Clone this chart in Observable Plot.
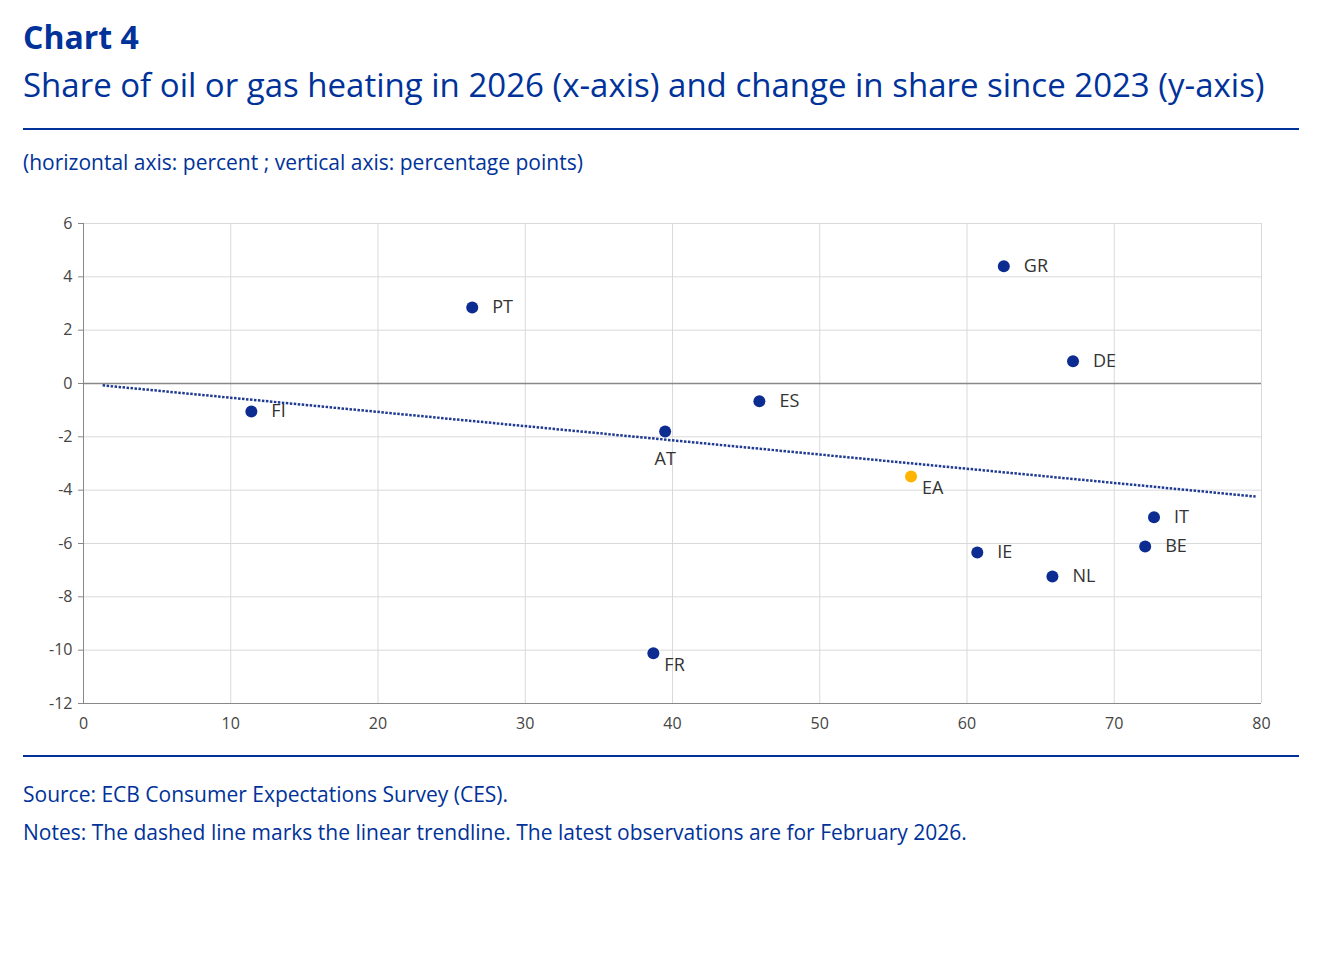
<!DOCTYPE html><html><head><meta charset="utf-8">
<script src="https://cdn.jsdelivr.net/npm/d3@7"></script>
<script src="https://cdn.jsdelivr.net/npm/@observablehq/plot@0.6"></script>
<style>
body{margin:0;background:#fff;font-family:"Open Sans",sans-serif;}
#wrap{padding:16px 33px 0 23px;width:1276px;}
h1{margin:0;color:#003299;font-size:32px;font-weight:700;line-height:42px;}
h2{margin:8px 0 0;color:#003299;font-size:33px;font-weight:400;line-height:38px;padding-bottom:24px;border-bottom:2.5px solid #003299;}
.unit{color:#003299;font-size:21px;margin-top:18px;}
.foot{border-top:2.5px solid #003299;color:#003299;font-size:21px;padding-top:18px;line-height:38px;}
</style></head><body><div id="wrap">
<h1>Chart 4</h1>
<h2>Share of oil or gas heating in 2026 (x-axis) and change in share since 2023 (y-axis)</h2>
<div class="unit">(horizontal axis: percent ; vertical axis: percentage points)</div>
<div id="chart"></div>
<div class="foot">Source: ECB Consumer Expectations Survey (CES).<br>Notes: The dashed line marks the linear trendline. The latest observations are for February 2026.</div>
</div>
<script>
const countries=["GR","PT","DE","FI","ES","AT","EA","IT","BE","IE","NL","FR"];
const share2026=[62.5,26.4,67.2,11.4,45.9,39.5,56.2,72.7,72.1,60.7,65.8,38.7];
const change=[4.4,2.85,0.83,-1.05,-0.67,-1.8,-3.49,-5.02,-6.11,-6.34,-7.24,-10.12];
const labelPos=["r","r","r","r","r","b","br","r","r","r","r","br"];
const trendX=[1.3,79.6];
const trendY=[-0.07,-4.24];
const xTicks=[0,10,20,30,40,50,60,70,80];
const yTicks=[6,4,2,0,-2,-4,-6,-8,-10,-12];
const data=countries.map((c,i)=>({c,x:share2026[i],y:change[i],p:labelPos[i]}));
const trend=trendX.map((x,i)=>({x,y:trendY[i]}));
const lab=p=>data.filter(d=>d.p===p);
const plot=Plot.plot({
 width:1276,height:555,marginLeft:60,marginRight:38,marginTop:23,marginBottom:52,
 style:{fontFamily:"Open Sans, sans-serif",fontSize:"16px",color:"#444"},
 x:{domain:[0,80],label:null},
 y:{domain:[-12,6],label:null},
 marks:[
  Plot.gridX(xTicks,{stroke:"#d9d9d9",strokeOpacity:1}),
  Plot.gridY(yTicks,{stroke:"#d9d9d9",strokeOpacity:1}),
  Plot.ruleY([0],{stroke:"#888",strokeWidth:1.5}),
  Plot.ruleY([-12],{stroke:"#888"}),
  Plot.ruleX([0],{stroke:"#888"}),
  Plot.axisX({ticks:xTicks,tickSize:0,tickPadding:14,fill:"#444"}),
  Plot.axisY({ticks:yTicks,tickSize:5,tickPadding:6,stroke:"#888",fill:"#444",tickFormat:d=>String(d)}),
  Plot.line(trend,{x:"x",y:"y",stroke:"#1f3a93",strokeWidth:2.5,strokeDasharray:"2.5,1.5",strokeLinecap:"butt"}),
  Plot.dot(data,{x:"x",y:"y",r:6,fill:d=>d.c==="EA"?"#FFB400":"#0d2c91",stroke:"none"}),
  Plot.text(lab("r"),{x:"x",y:"y",text:"c",dx:20,textAnchor:"start",fill:"#333",fontSize:18}),
  Plot.text(lab("b"),{x:"x",y:"y",text:"c",dy:28,fill:"#333",fontSize:18}),
  Plot.text(lab("br"),{x:"x",y:"y",text:"c",dx:11,dy:12,textAnchor:"start",fill:"#333",fontSize:18})
 ]});
document.getElementById("chart").appendChild(plot);
plot.style.marginTop="24px";
</script></body></html>
